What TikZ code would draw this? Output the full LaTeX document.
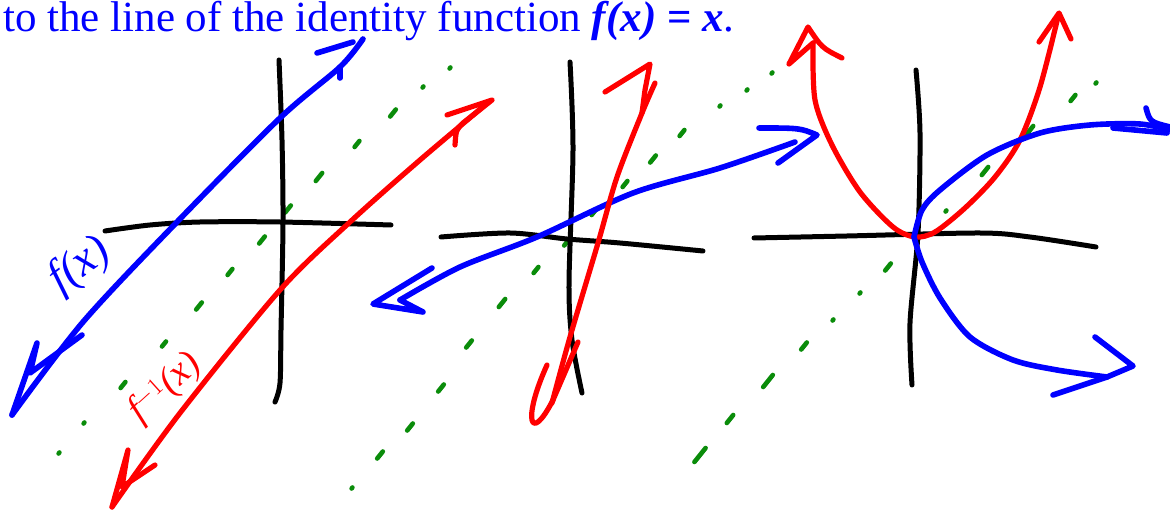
\documentclass[tikz,border=0pt]{standalone}
\usepackage{fontspec}
\setmainfont{Liberation Serif}
\definecolor{diaggreen}{RGB}{10,140,10}
\begin{document}
\begin{tikzpicture}[
  x=1pt, y=-1pt,
  axis/.style = {draw=black, line width=5pt, line cap=round, line join=round},
  bluepen/.style = {draw=blue, line width=5.6pt, line cap=round, line join=round},
  redpen/.style = {draw=red, line width=5.2pt, line cap=round, line join=round},
  greenpen/.style = {draw=diaggreen, line width=4.6pt, line cap=round},
  caption/.style = {anchor=base west, inner sep=0pt, text=blue,
    font=\fontsize{43}{50}\selectfont},
  scribble/.style = {inner sep=0pt, font=\itshape\fontsize{46}{50}\selectfont},
]
\useasboundingbox (0,0) rectangle (1170,510);

% caption line
\node[caption] (cap) at (3,32)
  {to the line of the identity function {\bfseries\itshape f(x)} {\bfseries =} {\bfseries\itshape x}.};

% dotted lines y = x
\foreach \px/\py/\l in {59/453/0.5, 84/423/0.5, 123/385/3, 164/344/2.5, 199/306/3.5,
  230/272/3, 262/240/3.5, 288/209/3.5, 319/177/4, 357/144/3, 393/113/3.5,
  423/87/0.5, 450/68/0.5,
  352/488/0.5, 380/455/3.5, 410/427/3.5, 441/388/3.5, 469/344/3.5, 502/303/4,
  536/270/3, 567/242/3.5, 594/212/3, 625/184/3, 653/159/3.5, 682/133/3,
  720/106/0.5, 747/90/0.5, 772/73/0.5,
  700/455/7, 730/419/4, 768/381/6, 804/346/3.5, 833/320/0.5, 860/293/0.5,
  888/267/3.5, 917/240/2, 946/211/0.5, 985/171/4, 1030/130/4, 1073/98/3,
  1096/83/0.5}
  \draw[greenpen] ({\px-0.8*\l},{\py+\l}) -- ({\px+0.8*\l},{\py-\l});

% first graph
\draw[axis] plot[smooth] coordinates {(279,60) (282,140) (283,223) (281,330) (280,383) (275,402)};
\draw[axis] plot[smooth] coordinates {(105,231) (150,225) (200,222) (280,222) (391,225)};
\draw[bluepen] plot[smooth] coordinates {(12,415) (83,322) (177,222) (280,118) (340,67) (363,39)};
\draw[bluepen] (317,53) -- (353,42);
\draw[bluepen] (340,67) -- (340,78);
\draw[bluepen] (12,415) -- (37,343) -- (30,373) -- (82,335);
\draw[redpen] plot[smooth] coordinates {(112,507) (180,413) (280,290) (350,222) (420,160) (490,101)};
\draw[redpen] (447,115) -- (492,100) -- (463,123) .. controls (456,130) .. (455,145);
\draw[redpen] (112,507) -- (128,450) -- (122,487) -- (155,465);
\node[scribble, text=blue, rotate=36] (fx) at (80,266) {f(x)};
\node[scribble, text=red, rotate=42, font=\itshape\fontsize{38}{42}\selectfont] (finv) at (165,388) {f$^{-1}$(x)};

% second graph
\draw[axis] plot[smooth] coordinates {(570,62) (573,150) (569,283) (572,340) (582,393)};
\draw[axis] plot[smooth] coordinates {(441,237) (510,233) (567,239) (620,243) (703,251)};
\draw[bluepen] plot[smooth] coordinates {(400,300) (460,267) (537,237) (633,193) (720,168) (795,142)};
\draw[bluepen] (432,268) -- (373,304) -- (423,312) -- (400,300);
\draw[bluepen] (759,128) .. controls (800,128) .. (817,135) -- (778,163);
\draw[redpen] plot[smooth] coordinates {(552,403) (570,337) (598,243) (617,177) (642,113) (655,83)};
\draw[redpen] (605,92) -- (650,64) -- (645,90) -- (642,113);
\draw[redpen] (547,365) .. controls (522,420) and (530,445) .. (553,400);
\draw[redpen] (578,342) -- (553,400);

% third graph
\draw[axis] plot[smooth] coordinates {(916,70) (920,133) (918,233) (910,323) (912,385)};
\draw[axis] plot[smooth] coordinates {(754,238) (847,236) (980,233) (1030,237) (1096,247)};
\draw[redpen] plot[smooth] coordinates {(813,43) (815,100) (832,145) (860,192) (893,227)
  (915,237) (935,232) (965,208) (995,177) (1020,140) (1040,87) (1058,17)};
\draw[redpen] (813,43) -- (789,64) -- (808,27) .. controls (822,48) .. (842,58);
\draw[redpen] (1039,42) -- (1059,13) -- (1071,39);
\draw[bluepen] plot[smooth] coordinates {(914,237) (922,210) (940,190) (987,155)
  (1040,133) (1090,125) (1140,124) (1170,130)};
\draw[bluepen] (1113,128) -- (1167,133);
\draw[bluepen] (1146,108) .. controls (1150,122) .. (1170,127);
\draw[bluepen] plot[smooth] coordinates {(914,237) (922,262) (940,298) (970,337)
  (1013,360) (1057,370) (1107,377)};
\draw[bluepen] (1095,337) -- (1133,366) -- (1107,377) -- (1053,395);
\end{tikzpicture}
\end{document}
